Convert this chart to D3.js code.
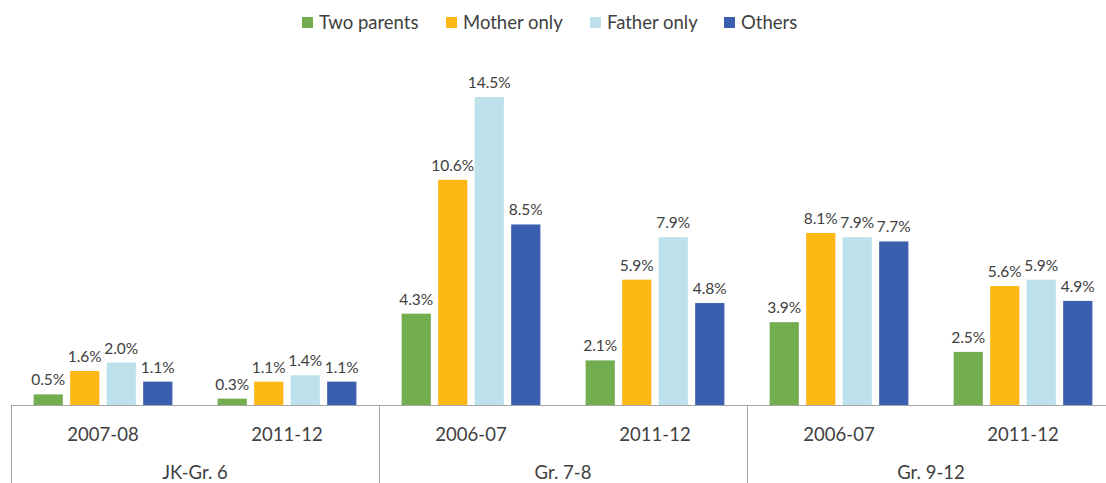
<!DOCTYPE html>
<html>
<head>
<meta charset="utf-8">
<script src="https://cdn.jsdelivr.net/npm/d3@7"></script>
<style>
  body { margin: 0; background: #fff; overflow: hidden; }
  text { font-family: Lato, "Open Sans", sans-serif; fill: #404040; }
</style>
</head>
<body>
<div id="chartDiv"></div>
<script>
var seriesNames = ["Two parents", "Mother only", "Father only", "Others"];
var seriesColors = ["#72ad50", "#fdb813", "#bde0eb", "#3a5fae"];
var groups = ["JK-Gr. 6", "Gr. 7-8", "Gr. 9-12"];
var years = [["2007-08", "2011-12"], ["2006-07", "2011-12"], ["2006-07", "2011-12"]];
var twoParents = [0.5, 0.3, 4.3, 2.1, 3.9, 2.5];
var motherOnly = [1.6, 1.1, 10.6, 5.9, 8.1, 5.6];
var fatherOnly = [2.0, 1.4, 14.5, 7.9, 7.9, 5.9];
var others = [1.1, 1.1, 8.5, 4.8, 7.7, 4.9];
var seriesValues = [twoParents, motherOnly, fatherOnly, others];

var width = 1106, height = 483;
// plot runs slightly past the right edge of the window, like the source image
var margin = { left: 11, right: -9, baseline: 405 };

var categories = [];
groups.forEach(function(g, gi) {
  years[gi].forEach(function(y) { categories.push({ group: g, gi: gi, year: y }); });
});

var svg = d3.select("#chartDiv").append("svg")
  .attr("width", width).attr("height", height);

var xScale = d3.scaleBand()
  .domain(d3.range(categories.length))
  .range([margin.left, width - margin.right]);

var xInner = d3.scaleBand()
  .domain(d3.range(seriesNames.length))
  .range([0, xScale.bandwidth()])
  .paddingInner(0.2)
  .paddingOuter(0.62);

var yScale = d3.scaleLinear()
  .domain([0, 14.5])
  .range([margin.baseline, 97]);

// bars
categories.forEach(function(c, ci) {
  var g = svg.append("g").attr("transform", "translate(" + xScale(ci) + ",0)");
  seriesNames.forEach(function(s, si) {
    var v = seriesValues[si][ci];
    g.append("rect")
      .attr("x", xInner(si))
      .attr("y", yScale(v))
      .attr("width", xInner.bandwidth())
      .attr("height", yScale(0) - yScale(v))
      .attr("fill", seriesColors[si]);
    g.append("text")
      .attr("x", xInner(si) + xInner.bandwidth() / 2)
      .attr("y", yScale(v) - 9)
      .attr("text-anchor", "middle")
      .style("font-size", "15.5px")
      .text(v.toFixed(1) + "%");
  });
  svg.append("text")
    .attr("x", xScale(ci) + xScale.bandwidth() / 2)
    .attr("y", 441)
    .attr("text-anchor", "middle")
    .style("font-size", "18.5px")
    .text(c.year);
});

// axis lines
svg.append("line")
  .attr("x1", margin.left).attr("x2", width)
  .attr("y1", margin.baseline + 0.5).attr("y2", margin.baseline + 0.5)
  .attr("stroke", "#a6a6a6");

var groupEdges = [0, 2, 4, 6];
groupEdges.forEach(function(ci) {
  var x = ci < categories.length ? xScale(ci) : xScale(ci - 1) + xScale.bandwidth();
  svg.append("line")
    .attr("x1", Math.round(x) + 0.5).attr("x2", Math.round(x) + 0.5)
    .attr("y1", margin.baseline).attr("y2", height)
    .attr("stroke", "#a6a6a6");
});

groups.forEach(function(g, gi) {
  var x0 = xScale(gi * 2), x1 = xScale(gi * 2 + 1) + xScale.bandwidth();
  svg.append("text")
    .attr("x", (x0 + x1) / 2)
    .attr("y", 479)
    .attr("text-anchor", "middle")
    .style("font-size", "18.5px")
    .text(g);
});

// legend
var legendX = [302, 446, 590, 724];
seriesNames.forEach(function(s, si) {
  svg.append("rect")
    .attr("x", legendX[si]).attr("y", 17)
    .attr("width", 11).attr("height", 11)
    .attr("fill", seriesColors[si]);
  svg.append("text")
    .attr("x", legendX[si] + 17)
    .attr("y", 29)
    .style("font-size", "18.5px")
    .text(s);
});
</script>
</body>
</html>
